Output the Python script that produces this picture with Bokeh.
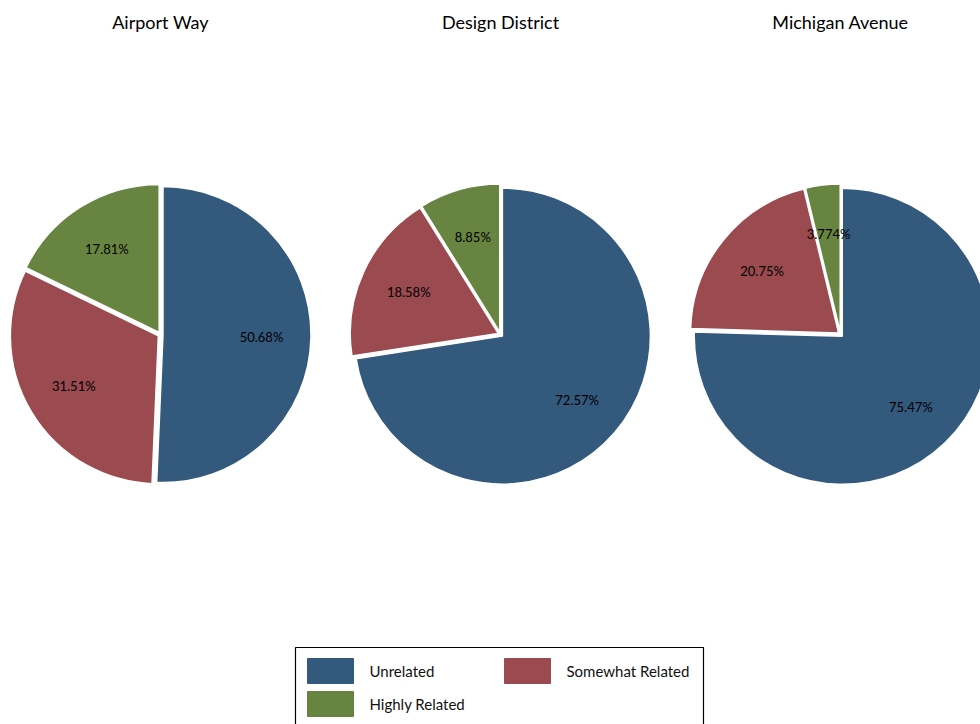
import math
from bokeh.plotting import figure
from bokeh.models import Range1d, ColumnDataSource
from bokeh.core.properties import value
from bokeh.embed import file_html
from bokeh.resources import INLINE

# ---- data ----
stores = ["Airport Way", "Design District", "Michigan Avenue"]
categories = ["Unrelated", "Somewhat Related", "Highly Related"]
colors = ["#33597d", "#9b4a50", "#678441"]
airport_way = [50.68, 31.51, 17.81]
design_district = [72.57, 18.58, 8.85]
michigan_avenue = [75.47, 20.75, 3.774]
label_texts = [["50.68%", "31.51%", "17.81%"],
               ["72.57%", "18.58%", "8.85%"],
               ["75.47%", "20.75%", "3.774%"]]
series = [airport_way, design_district, michigan_avenue]

W, H = 980, 724
FONT = "Lato"

p = figure(width=W, height=H, output_backend="svg", toolbar_location=None,
           x_range=Range1d(0, W), y_range=Range1d(0, H), min_border=0,
           border_fill_color="white", background_fill_color="white")
p.axis.visible = False
p.grid.visible = False
p.outline_line_color = None

def Y(ypix):
    return H - ypix

centers_x = [160, 500, 840]
cy = Y(334)
R = 148
EXPLODE = 2.5
LABEL_R = 101

for i, vals in enumerate(series):
    total = sum(vals)
    cum = 0.0
    xs, ys, sa, ea, lx, ly = [], [], [], [], [], []
    for v in vals:
        f0 = cum / total
        f1 = (cum + v) / total
        mid = (f0 + f1) / 2
        theta_mid = math.pi / 2 - mid * 2 * math.pi
        xs.append(centers_x[i] + EXPLODE * math.cos(theta_mid))
        ys.append(cy + EXPLODE * math.sin(theta_mid))
        sa.append(math.pi / 2 - f0 * 2 * math.pi)
        ea.append(math.pi / 2 - f1 * 2 * math.pi)
        lx.append(centers_x[i] + LABEL_R * math.cos(theta_mid))
        ly.append(cy + LABEL_R * math.sin(theta_mid))
        cum += v
    src = ColumnDataSource(dict(x=xs, y=ys, sa=sa, ea=ea, color=colors,
                                lx=lx, ly=ly, lab=label_texts[i]))
    p.wedge(x="x", y="y", radius=R, start_angle="sa", end_angle="ea",
            direction="clock", fill_color="color", line_color="white",
            line_width=1.5, source=src)
    p.text(x="lx", y="ly", text="lab", source=src, text_align="center",
           text_baseline="middle", text_font=value(FONT),
           text_font_size="13px", text_color="#000000")

# titles
p.text(x=centers_x, y=[Y(21)] * 3, text=stores, text_align="center",
       text_baseline="middle", text_font=value(FONT), text_font_size="18px",
       text_color="#000000")

# legend (manual)
p.quad(left=[295], right=[703], top=[Y(647)], bottom=[Y(730)],
       fill_color=None, line_color="#000000", line_width=1.2)
sw_x = [330, 527, 330]
sw_y = [Y(670.5), Y(670.5), Y(703.5)]
p.rect(x=sw_x, y=sw_y, width=46, height=25, fill_color=colors,
       line_color=colors)
p.text(x=[369, 566, 369], y=sw_y, text=categories, text_align="left",
       text_baseline="middle", text_font=value(FONT), text_font_size="15px",
       text_color="#111111")

open("out.html", "w").write(file_html(p, INLINE))
